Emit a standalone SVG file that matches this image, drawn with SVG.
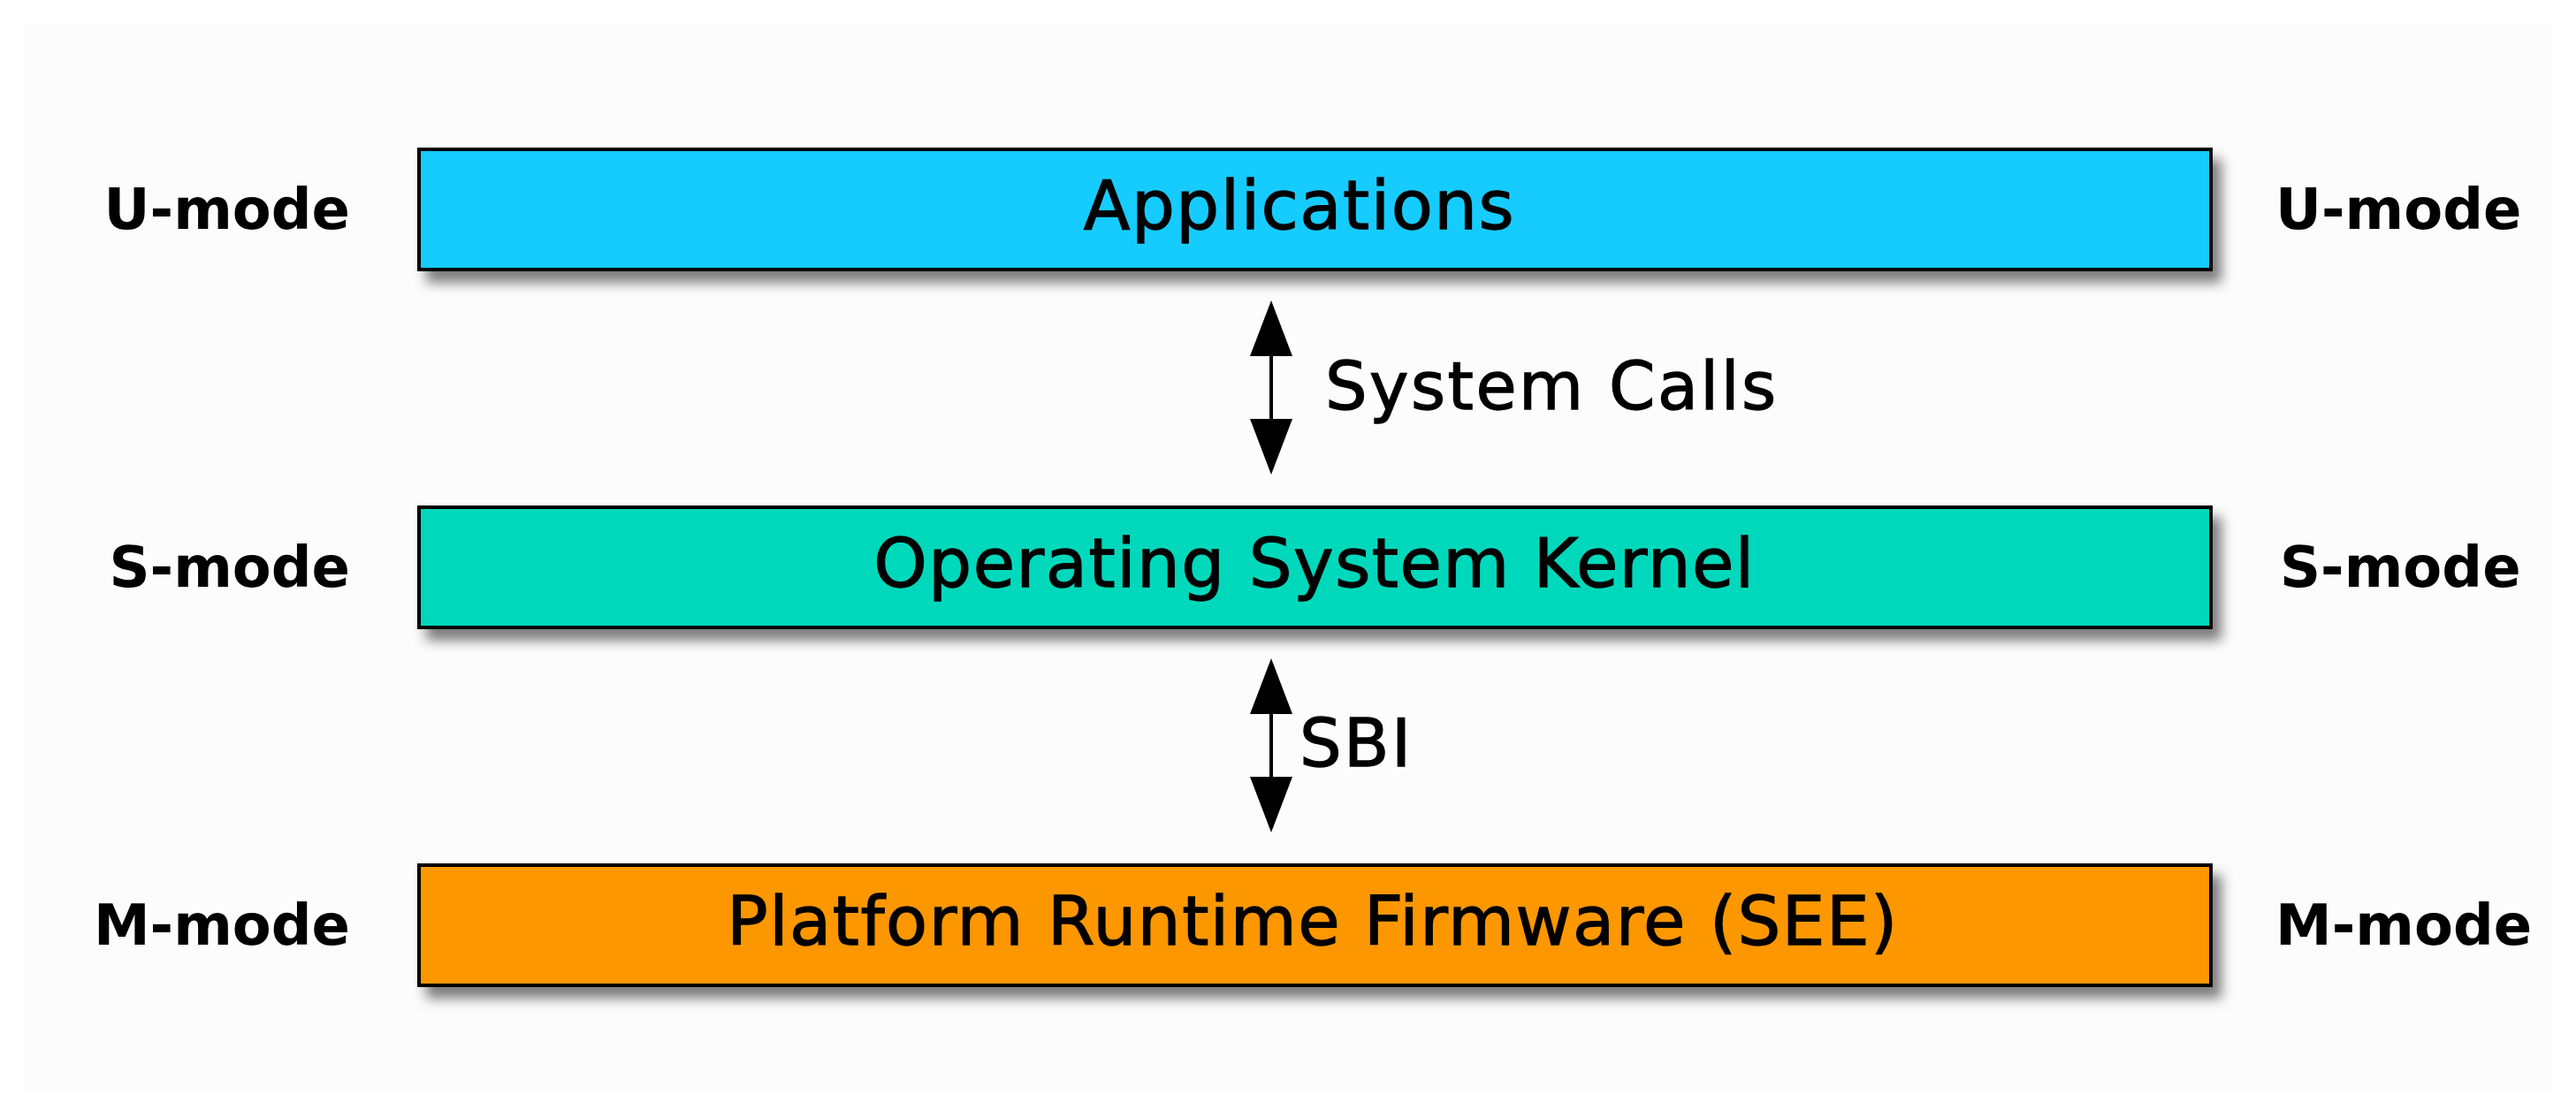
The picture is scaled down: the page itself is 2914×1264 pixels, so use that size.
<svg xmlns="http://www.w3.org/2000/svg" width="2914" height="1264" viewBox="0 0 2914 1264">
  <style>
    .box { stroke: #000; stroke-width: 4; filter: url(#shadow); }
    .title { font-family: "DejaVu Sans", "Liberation Sans", sans-serif; font-size: 77px; letter-spacing: 1.5px; fill: #000; stroke: #000; stroke-width: 1.3px; text-anchor: middle; }
    .mode { font-family: "DejaVu Sans", "Liberation Sans", sans-serif; font-size: 64px; font-weight: bold; fill: #000; }
    .left { text-anchor: end; }
    .right { text-anchor: start; }
    .label { font-family: "DejaVu Sans", "Liberation Sans", sans-serif; font-size: 75px; letter-spacing: 2.5px; fill: #000; stroke: #000; stroke-width: 1.3px; }
    .conn { stroke: #000; stroke-width: 4; fill: none; marker-start: url(#head); marker-end: url(#head); }
  </style>
  <defs>
    <filter id="shadow" x="-5%" y="-30%" width="115%" height="180%">
      <feDropShadow dx="10" dy="13" stdDeviation="7" flood-color="#000" flood-opacity="0.5"/>
    </filter>
    <marker id="head" markerUnits="userSpaceOnUse" viewBox="0 0 63 48" refX="58" refY="24" markerWidth="63" markerHeight="48" orient="auto-start-reverse">
      <path d="M0,0 L63,24 L0,48 Z" fill="#000"/>
    </marker>
  </defs>
  <rect x="0" y="0" width="2914" height="1264" fill="#ffffff"/>
  <rect x="27" y="27" width="2860" height="1210" fill="#fcfcfc"/>

  <g id="applications">
    <rect class="box" x="474" y="169" width="2027" height="136" fill="#12ccff"/>
    <text class="title" x="1470" y="259">Applications</text>
  </g>
  <g id="kernel">
    <rect class="box" x="474" y="574" width="2027" height="136" fill="#00d8bc"/>
    <text class="title" x="1487" y="664">Operating System Kernel</text>
  </g>
  <g id="firmware">
    <rect class="box" x="474" y="979" width="2027" height="136" fill="#fc9700"/>
    <text class="title" x="1485" y="1069">Platform Runtime Firmware (SEE)</text>
  </g>

  <g id="mode-labels">
    <text class="mode left" x="396" y="259">U-mode</text>
    <text class="mode right" x="2574" y="259">U-mode</text>
    <text class="mode left" x="396" y="664">S-mode</text>
    <text class="mode right" x="2579" y="664">S-mode</text>
    <text class="mode left" x="396" y="1069">M-mode</text>
    <text class="mode right" x="2574" y="1069">M-mode</text>
  </g>

  <g id="connectors">
    <line class="conn" x1="1438" y1="345" x2="1438" y2="532"/>
    <line class="conn" x1="1438" y1="750" x2="1438" y2="937"/>
    <text class="label" x="1499" y="463">System Calls</text>
    <text class="label" x="1470" y="867">SBI</text>
  </g>
</svg>
